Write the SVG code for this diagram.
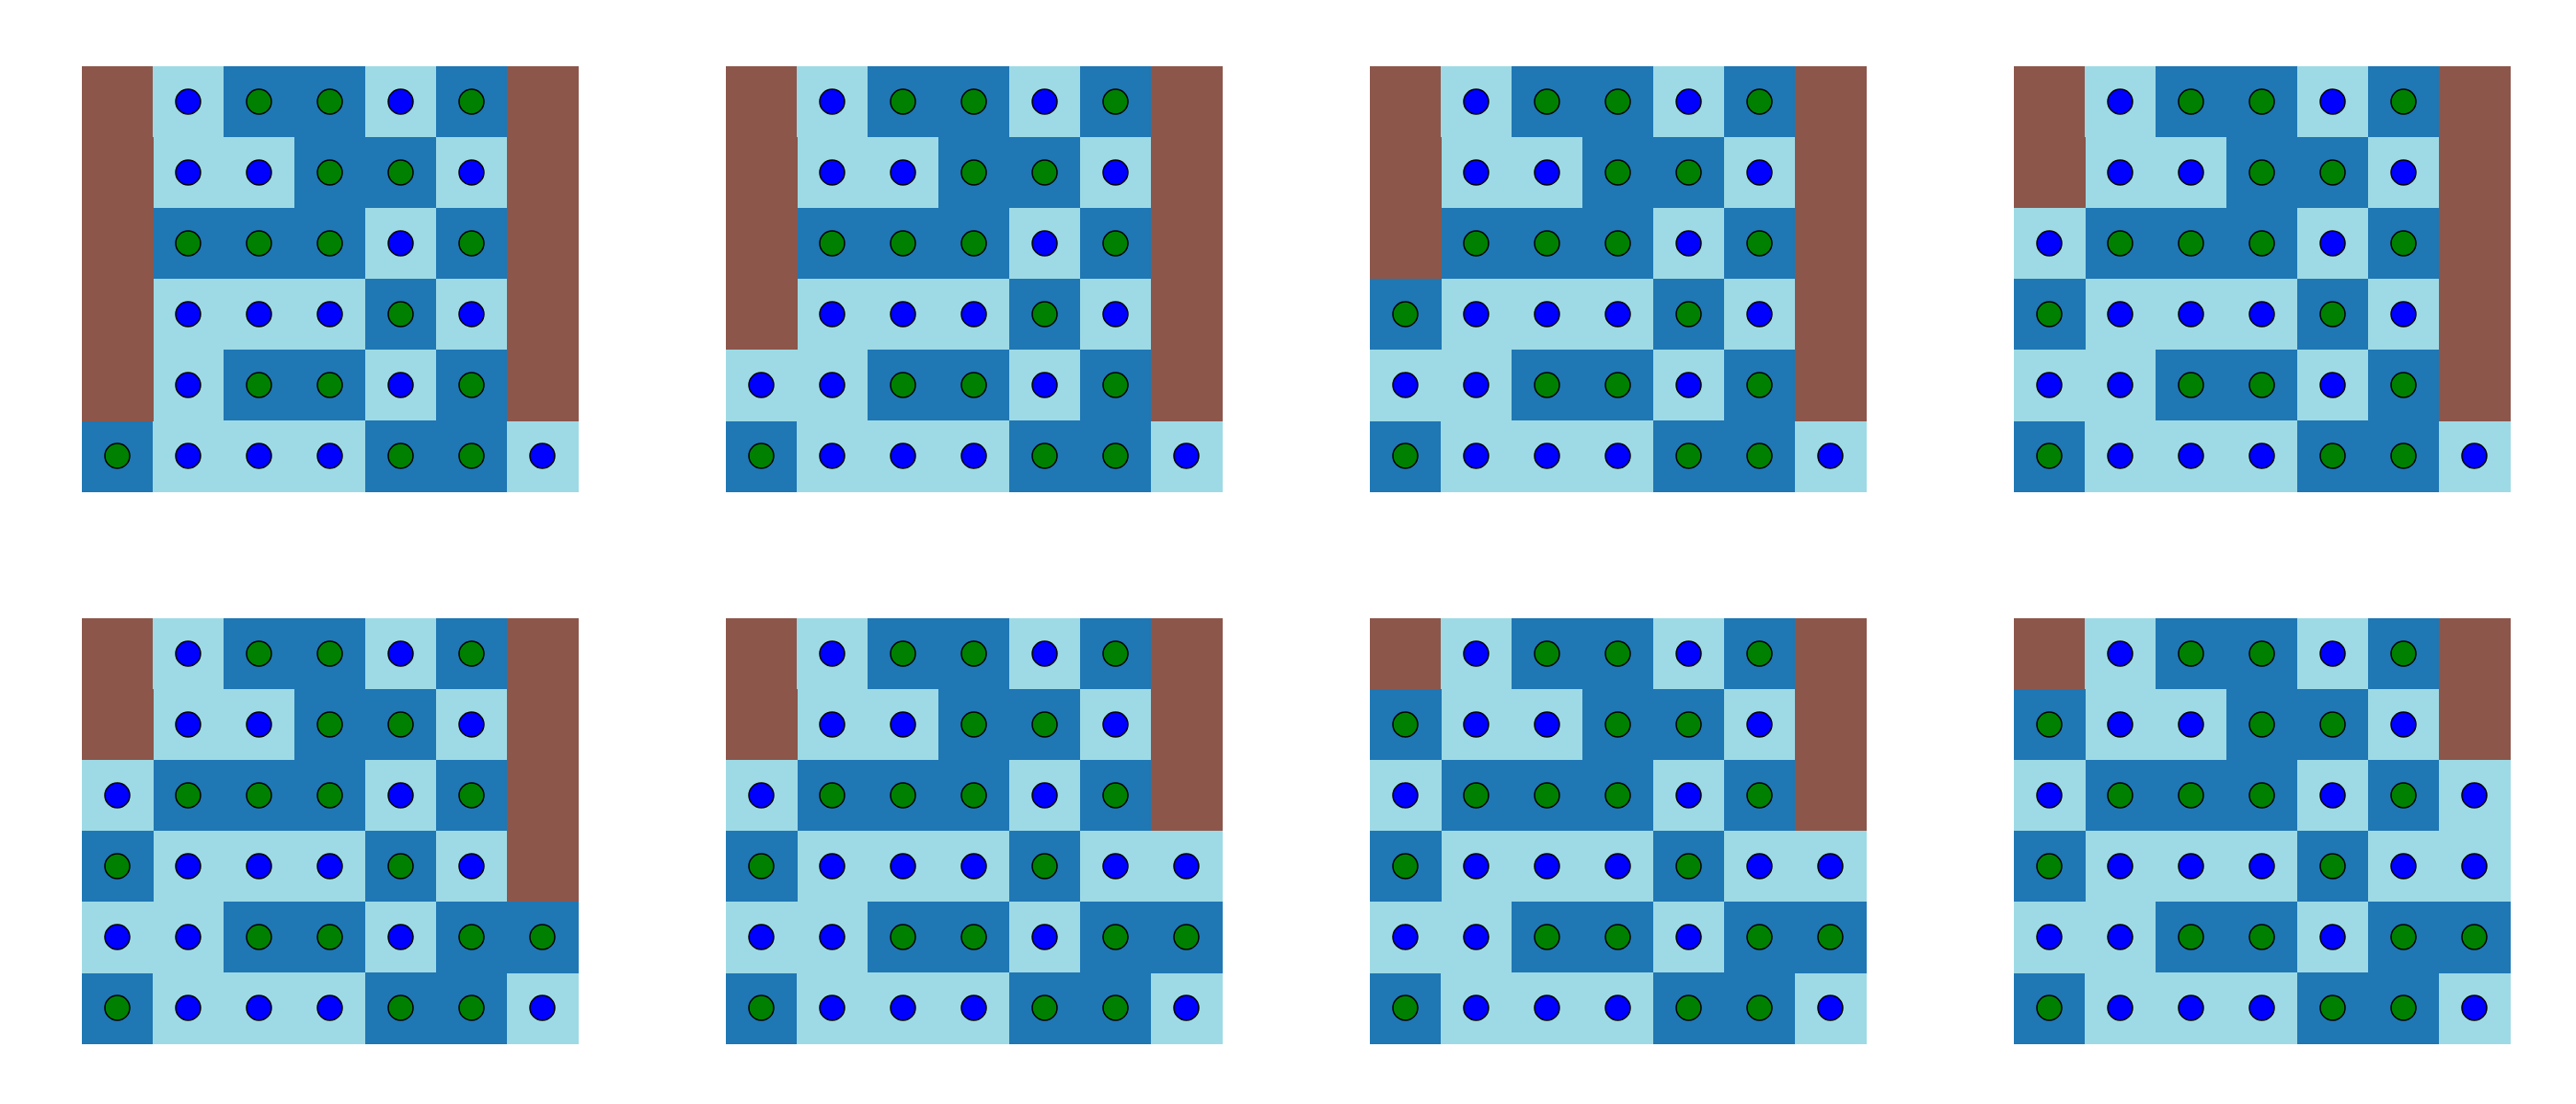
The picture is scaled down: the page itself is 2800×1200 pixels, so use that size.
<svg xmlns="http://www.w3.org/2000/svg" xmlns:xlink="http://www.w3.org/1999/xlink" width="2800" height="1200" viewBox="0 0 2800 1200">
<style>
.br{fill:#8c564b}
.d{fill:#1f77b4}
.l{fill:#9edae5}
.g{fill:#008000;stroke:#000;stroke-width:1.5}
.b{fill:#0000ff;stroke:#000;stroke-width:1.5}
rect{shape-rendering:crispEdges}
</style>
<defs>
<rect id="B" class="br" width="77.5" height="77.5"/>
<g id="D"><rect class="d" width="77.5" height="77.5"/><circle class="g" cx="38.5" cy="38.5" r="13.5"/></g>
<g id="L"><rect class="l" width="77.5" height="77.5"/><circle class="b" cx="38.5" cy="38.5" r="13.5"/></g>
<g id="core">
<use href="#B" x="0" y="0"/><use href="#L" x="77" y="0"/><use href="#D" x="154" y="0"/><use href="#D" x="231" y="0"/><use href="#L" x="308" y="0"/><use href="#D" x="385" y="0"/><use href="#B" x="462" y="0"/>
<use href="#L" x="77" y="77"/><use href="#L" x="154" y="77"/><use href="#D" x="231" y="77"/><use href="#D" x="308" y="77"/><use href="#L" x="385" y="77"/><use href="#B" x="462" y="77"/>
<use href="#D" x="77" y="154"/><use href="#D" x="154" y="154"/><use href="#D" x="231" y="154"/><use href="#L" x="308" y="154"/><use href="#D" x="385" y="154"/>
<use href="#L" x="77" y="231"/><use href="#L" x="154" y="231"/><use href="#L" x="231" y="231"/><use href="#D" x="308" y="231"/><use href="#L" x="385" y="231"/>
<use href="#L" x="77" y="308"/><use href="#D" x="154" y="308"/><use href="#D" x="231" y="308"/><use href="#L" x="308" y="308"/><use href="#D" x="385" y="308"/>
<use href="#D" x="0" y="385"/><use href="#L" x="77" y="385"/><use href="#L" x="154" y="385"/><use href="#L" x="231" y="385"/><use href="#D" x="308" y="385"/><use href="#D" x="385" y="385"/><use href="#L" x="462" y="385"/>
</g>
</defs>
<rect width="2800" height="1200" fill="#fff"/>
<g id="panel1" transform="translate(89,72)">
<use href="#core"/>
<use href="#B" x="0" y="77"/><use href="#B" x="0" y="154"/><use href="#B" x="0" y="231"/><use href="#B" x="0" y="308"/>
<use href="#B" x="462" y="154"/><use href="#B" x="462" y="231"/><use href="#B" x="462" y="308"/>
</g>
<g id="panel2" transform="translate(789,72)">
<use href="#core"/>
<use href="#B" x="0" y="77"/><use href="#B" x="0" y="154"/><use href="#B" x="0" y="231"/><use href="#L" x="0" y="308"/>
<use href="#B" x="462" y="154"/><use href="#B" x="462" y="231"/><use href="#B" x="462" y="308"/>
</g>
<g id="panel3" transform="translate(1489,72)">
<use href="#core"/>
<use href="#B" x="0" y="77"/><use href="#B" x="0" y="154"/><use href="#D" x="0" y="231"/><use href="#L" x="0" y="308"/>
<use href="#B" x="462" y="154"/><use href="#B" x="462" y="231"/><use href="#B" x="462" y="308"/>
</g>
<g id="panel4" transform="translate(2189,72)">
<use href="#core"/>
<use href="#B" x="0" y="77"/><use href="#L" x="0" y="154"/><use href="#D" x="0" y="231"/><use href="#L" x="0" y="308"/>
<use href="#B" x="462" y="154"/><use href="#B" x="462" y="231"/><use href="#B" x="462" y="308"/>
</g>
<g id="panel5" transform="translate(89,672)">
<use href="#core"/>
<use href="#B" x="0" y="77"/><use href="#L" x="0" y="154"/><use href="#D" x="0" y="231"/><use href="#L" x="0" y="308"/>
<use href="#B" x="462" y="154"/><use href="#B" x="462" y="231"/><use href="#D" x="462" y="308"/>
</g>
<g id="panel6" transform="translate(789,672)">
<use href="#core"/>
<use href="#B" x="0" y="77"/><use href="#L" x="0" y="154"/><use href="#D" x="0" y="231"/><use href="#L" x="0" y="308"/>
<use href="#B" x="462" y="154"/><use href="#L" x="462" y="231"/><use href="#D" x="462" y="308"/>
</g>
<g id="panel7" transform="translate(1489,672)">
<use href="#core"/>
<use href="#D" x="0" y="77"/><use href="#L" x="0" y="154"/><use href="#D" x="0" y="231"/><use href="#L" x="0" y="308"/>
<use href="#B" x="462" y="154"/><use href="#L" x="462" y="231"/><use href="#D" x="462" y="308"/>
</g>
<g id="panel8" transform="translate(2189,672)">
<use href="#core"/>
<use href="#D" x="0" y="77"/><use href="#L" x="0" y="154"/><use href="#D" x="0" y="231"/><use href="#L" x="0" y="308"/>
<use href="#L" x="462" y="154"/><use href="#L" x="462" y="231"/><use href="#D" x="462" y="308"/>
</g>
</svg>
